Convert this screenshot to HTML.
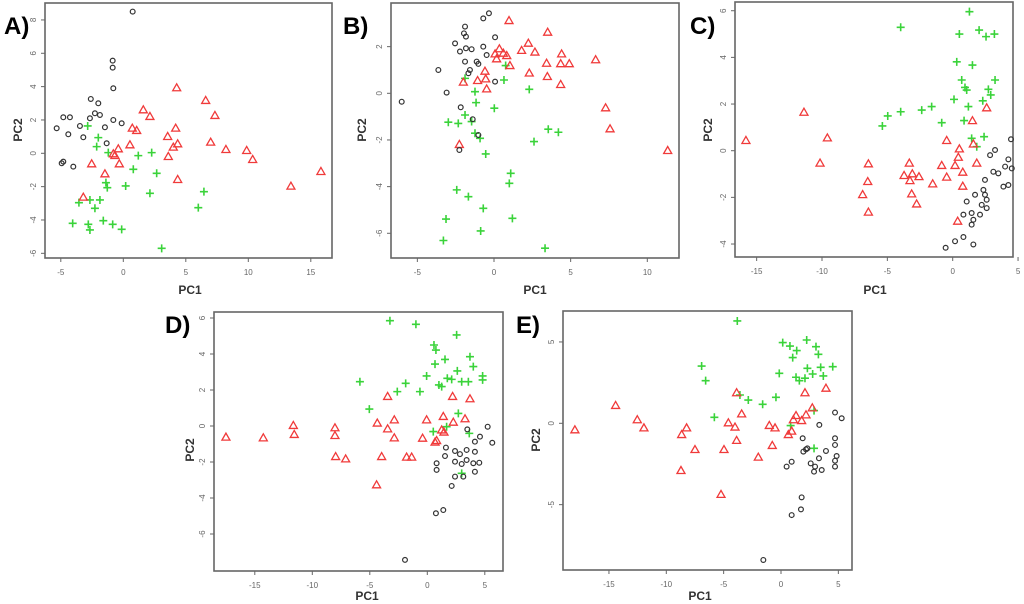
<!DOCTYPE html>
<html><head><meta charset="utf-8">
<style>
html,body{margin:0;padding:0;background:#fff;}
svg{display:block;font-family:"Liberation Sans",sans-serif;}
</style></head>
<body>
<svg id="fig" width="1024" height="604" viewBox="0 0 1024 604" xmlns="http://www.w3.org/2000/svg"></svg>
<script>
// ---------- Panel A data ----------
const aBlackX=[0.75,-0.85,-0.85,-0.8,-2.6,-2,-2.27,-1.87,-2.67,-4.8,-4.27,-3.47,-5.33,-4.4,-3.2,-1.47,-0.8,-0.13,-1.33,-4.8,-4.93,-4];
const aBlackY=[8.5,5.56,5.14,3.9,3.26,3,2.4,2.3,2.1,2.16,2.16,1.64,1.5,1.14,0.96,1.56,2,1.8,0.6,-0.5,-0.6,-0.8];
const aRedX=[4.27,6.59,7.33,1.6,2.13,0.72,1.07,4.19,3.55,4,4.35,6.99,8.21,9.87,10.35,0.53,-0.4,-0.67,-0.32,3.6,4.35,-1.47,-2.53,-3.2,13.41,15.81,-0.8];
const aRedY=[3.96,3.2,2.3,2.64,2.24,1.54,1.4,1.54,1.04,0.4,0.6,0.7,0.26,0.2,-0.34,0.54,0.3,-0.1,-0.6,-0.16,-1.54,-1.2,-0.6,-2.6,-1.94,-1.06,0];
const aGreenX=[-2.85,-2,-2.13,-1.2,2.27,1.2,0.8,2.67,-1.39,-1.28,0.19,2.13,6.45,-3.55,-2.67,-1.87,-2.27,6,-4.05,-2.8,-1.6,-0.85,-0.13,-2.67,3.07];
const aGreenY=[1.64,0.94,0.4,0.04,0.04,-0.14,-0.96,-1.2,-1.76,-2.06,-1.96,-2.4,-2.3,-2.96,-2.8,-2.8,-3.3,-3.26,-4.2,-4.26,-4.04,-4.26,-4.56,-4.6,-5.7];
const aXTicks=[-5,0,5,10,15];
const aYTicks=[8,6,4,2,0,-2,-4,-6];
// ---------- Panel B data ----------
const bBlackX=[-0.33,-0.7,-1.89,-1.96,-1.83,-2.54,-2.22,-1.83,-1.46,0.07,-0.7,-0.48,-1.89,-1.13,-1.02,-1.57,-1.67,-3.63,0.07,-3.09,-6.02,-2.17,-1.39,-1.02,-2.26];
const bBlackY=[3.43,3.21,2.86,2.57,2.43,2.14,1.79,1.93,1.89,2.4,2,1.64,1.36,1.36,1.26,1,0.86,1,0.5,0.03,-0.36,-0.6,-1.11,-1.79,-2.43];
const bRedX=[0.98,3.5,2.24,1.8,2.67,0.35,0.07,0.61,0.83,0.17,1.04,3.43,4.41,4.35,4.91,6.63,2.3,3.48,4.35,-0.59,-0.54,-1.07,-2,-0.48,7.28,7.57,11.33,-2.26];
const bRedY=[3.14,2.64,2.17,1.86,1.79,1.93,1.71,1.74,1.64,1.5,1.21,1.31,1.71,1.29,1.29,1.46,0.89,0.74,0.4,0.97,0.64,0.57,0.5,0.21,-0.6,-1.5,-2.43,-2.17];
const bGreenX=[0.76,-1.89,0.65,2.3,-1.24,-1.17,0.02,-1.89,-2.98,-2.33,-1.46,-1.24,-0.91,3.54,4.2,2.61,-0.54,1.09,1,-2.43,-1.67,-0.7,-3.13,1.2,-0.87,-3.3,3.33];
const bGreenY=[1.19,0.64,0.57,0.17,0.07,-0.4,-0.64,-0.93,-1.24,-1.29,-1.21,-1.71,-1.93,-1.54,-1.67,-2.07,-2.6,-3.43,-3.86,-4.14,-4.43,-4.93,-5.39,-5.36,-5.9,-6.31,-6.64];
const bXTicks=[-5,0,5,10];
const bYTicks=[2,0,-2,-4,-6];
// ---------- Panel C data ----------
const cBlackX=[4.46,3.24,2.86,4.26,4.01,4.52,3.11,3.49,2.47,4.26,3.88,2.35,2.47,2.6,1.71,1.07,2.22,2.6,2.09,1.45,0.82,1.58,1.45,0.82,0.18,1.58,-0.54];
const cBlackY=[0.49,0.03,-0.19,-0.37,-0.68,-0.76,-0.9,-0.97,-1.25,-1.47,-1.54,-1.68,-1.89,-2.1,-1.89,-2.18,-2.32,-2.46,-2.74,-2.67,-2.74,-2.96,-3.17,-3.7,-3.88,-4.02,-4.16];
const cRedX=[-15.82,-11.38,-9.59,-10.15,-6.45,-6.5,-6.89,-6.45,-3.32,-3.72,-3.09,-2.58,-3.27,-3.14,-2.76,-1.53,-0.84,-0.46,-0.46,0.18,0.51,0.43,0.77,0.77,1.51,1.58,1.84,2.6,0.38];
const cRedY=[0.46,1.67,0.57,-0.51,-0.54,-1.3,-1.86,-2.61,-0.51,-1.04,-0.97,-1.09,-1.26,-1.83,-2.26,-1.4,-0.61,0.46,-1.11,-0.61,0.1,-0.26,-0.9,-1.5,1.31,0.31,-0.51,1.86,-3];
const cGreenX=[1.28,-3.98,0.51,2.02,3.19,2.55,0.31,1.51,0.69,0.94,3.24,1.07,2.73,2.91,0.1,2.3,1.2,-1.61,-2.37,-3.98,-4.97,-5.38,-0.84,0.87,1.45,2.4,1.84];
const cGreenY=[5.96,5.29,5,5.17,5,4.89,3.81,3.67,3.03,2.71,3.03,2.6,2.63,2.39,2.2,2.14,1.89,1.89,1.74,1.67,1.49,1.06,1.2,1.29,0.53,0.6,0.17];
const cXTicks=[-15,-10,-5,0,5];
const cYTicks=[6,4,2,0,-2,-4];
// ---------- Panel D data ----------
const dBlackX=[3.48,5.25,4.58,4.14,5.65,1.62,1.54,2.41,2.84,3.42,4.14,2.41,2.99,3.42,4,4.52,4.14,0.81,0.81,2.41,3.13,2.12,0.75,1.39,-1.94];
const dBlackY=[-0.19,-0.04,-0.59,-0.87,-0.93,-1.2,-1.67,-1.39,-1.56,-1.33,-1.43,-1.98,-2.11,-1.89,-2.07,-2.04,-2.54,-2.07,-2.44,-2.81,-2.81,-3.33,-4.85,-4.67,-7.44];
const dRedX=[-17.51,-14.26,-11.65,-11.57,-8.03,-8.03,-7.97,-7.1,-4.35,-3.45,-2.87,-2.87,-3.45,-3.97,-4.41,-1.8,-1.36,-0.41,-0.06,0.67,0.81,1.39,1.45,2.26,2.2,3.28,3.71,1.25];
const dRedY=[-0.59,-0.63,0.06,-0.44,-0.07,-0.5,-1.67,-1.8,0.19,-0.13,0.37,-0.63,1.67,-1.67,-3.24,-1.7,-1.7,-0.65,0.37,-0.87,-0.78,0.56,-0.31,0.24,1.67,0.43,1.54,-0.19];
const dGreenX=[-3.25,-0.99,2.55,0.58,0.75,1.54,0.67,3.71,4,2.61,-0.06,1.74,2.12,1.01,1.25,2.99,3.57,4.81,4.81,-5.86,-1.88,-2.61,-0.64,-5.04,2.7,0.52,1.68,2.99,3.65];
const dGreenY=[5.85,5.65,5.06,4.5,4.22,3.7,3.44,3.85,3.3,3.06,2.78,2.65,2.59,2.28,2.19,2.46,2.46,2.78,2.56,2.46,2.37,1.91,1.91,0.94,0.7,-0.31,-0.04,-2.63,-0.41];
const dXTicks=[-15,-10,-5,0,5];
const dYTicks=[6,4,2,0,-2,-4,-6];
// ---------- Panel E data ----------
const eBlackX=[4.71,5.29,3.34,1.89,4.71,4.71,2.18,1.95,3.92,4.85,4.71,4.71,0.93,0.49,2.59,2.97,3.31,3.55,2.88,1.8,0.93,1.74,-1.54,2.3];
const eBlackY=[0.66,0.31,-0.1,-0.92,-0.92,-1.33,-1.6,-1.74,-1.7,-2.01,-2.3,-2.66,-2.36,-2.66,-2.46,-2.66,-2.15,-2.87,-2.97,-4.55,-5.64,-5.29,-8.4,-1.54];
const eRedX=[-17.97,-14.42,-12.53,-11.95,-8.66,-8.23,-7.5,-8.72,-5.23,-4.97,-4.59,-4.01,-3.87,-3.43,-3.87,-1.98,-1.02,-0.52,-0.76,0.64,0.93,1.08,1.31,1.8,2.09,2.18,2.73,3.92];
const eRedY=[-0.37,1.13,0.25,-0.25,-0.66,-0.25,-1.58,-2.87,-4.34,-1.58,0.06,-0.2,1.91,0.61,-1.02,-2.05,-0.1,-0.25,-1.33,-0.66,-0.45,0.25,0.51,0.2,1.91,0.55,0.98,2.19];
const eGreenX=[-3.81,-6.92,-6.57,-5.81,-3.58,-2.85,-1.6,-0.44,-0.15,0.15,0.78,1.37,1.02,2.24,3.05,3.26,2.3,2.76,3.69,3.46,4.51,1.31,1.6,2.09,0.84,2.88,2.88];
const eGreenY=[6.29,3.52,2.62,0.37,1.74,1.43,1.17,1.6,3.07,4.96,4.75,4.47,4.04,5.12,4.71,4.24,3.38,3.03,2.91,3.44,3.48,2.83,2.62,2.77,-0.14,0.78,-1.54];
const eXTicks=[-15,-10,-5,0,5];
const eYTicks=[5,0,-5];

const NS="http://www.w3.org/2000/svg";
const svg=document.getElementById('fig');
function mk(tag,attrs,parent){const e=document.createElementNS(NS,tag);for(const k in attrs)e.setAttribute(k,attrs[k]);(parent||svg).appendChild(e);return e;}

const panels=[
 {id:'a',letter:'A)',lx:4,ly:34,frame:[45,3,332,258],x0:123.3,kx:12.5,y0:153.3,ky:16.67,bx:aBlackX,by:aBlackY,rx:aRedX,ry:aRedY,gx:aGreenX,gy:aGreenY,xt:aXTicks,yt:aYTicks,pc1:[190,294],pc2:[22,130]},
 {id:'b',letter:'B)',lx:343,ly:34,frame:[391,3,679,258],x0:494,kx:15.33,y0:93.3,ky:23.33,bx:bBlackX,by:bBlackY,rx:bRedX,ry:bRedY,gx:bGreenX,gy:bGreenY,xt:bXTicks,yt:bYTicks,pc1:[535,294],pc2:[366,130]},
 {id:'c',letter:'C)',lx:690,ly:34,frame:[735,2,1013,257],x0:952.7,kx:13.07,y0:150.7,ky:23.33,bx:cBlackX,by:cBlackY,rx:cRedX,ry:cRedY,gx:cGreenX,gy:cGreenY,xt:cXTicks,yt:cYTicks,pc1:[875,294],pc2:[712,130]},
 {id:'d',letter:'D)',lx:165,ly:333,frame:[214,312,503,571],x0:427.3,kx:11.5,y0:426,ky:18,bx:dBlackX,by:dBlackY,rx:dRedX,ry:dRedY,gx:dGreenX,gy:dGreenY,xt:dXTicks,yt:dYTicks,pc1:[367,600],pc2:[194,450]},
 {id:'e',letter:'E)',lx:516,ly:333,frame:[563,311,852,570],x0:781,kx:11.47,y0:423.3,ky:16.27,bx:eBlackX,by:eBlackY,rx:eRedX,ry:eRedY,gx:eGreenX,gy:eGreenY,xt:eXTicks,yt:eYTicks,pc1:[700,600],pc2:[540,440]}
];

panels.forEach(p=>{
  const g=mk('g',{});
  
  
  const sx=v=>p.x0+v*p.kx, sy=v=>p.y0-v*p.ky;
  const [L,T,R,B]=p.frame;
  const fr=mk('rect',{x:L,y:T,width:R-L,height:B-T,fill:'none',stroke:'#666','stroke-width':1.6},g);
  
  
  const lt=mk('text',{x:p.lx,y:p.ly,'font-size':24,'font-weight':'bold',fill:'#000'},g);
  lt.textContent=p.letter;
  
  
  p.xt.forEach(v=>{
    const x=sx(v);
    mk('line',{x1:x,y1:B,x2:x,y2:B+4,stroke:'#666'},g);
    const t=mk('text',{x:x,y:B+17,'font-size':8,'text-anchor':'middle',fill:'#666'},g);
    t.textContent=v;
    
    
  });
  p.yt.forEach(v=>{
    const y=sy(v);
    mk('line',{x1:L,y1:y,x2:L-4,y2:y,stroke:'#666'},g);
    const t=mk('text',{x:L-9,y:y,'font-size':8,'text-anchor':'middle',fill:'#666',transform:`rotate(-90 ${L-9} ${y})`},g);
    t.textContent=v;
    
    
  });
  const t1=mk('text',{x:p.pc1[0],y:p.pc1[1],'font-size':12,'font-weight':'bold','text-anchor':'middle',fill:'#333'},g);
  t1.textContent='PC1';
  
  
  const t2=mk('text',{x:p.pc2[0],y:p.pc2[1],'font-size':12,'font-weight':'bold','text-anchor':'middle',fill:'#333',transform:`rotate(-90 ${p.pc2[0]} ${p.pc2[1]})`},g);
  t2.textContent='PC2';
  
  
  p.gx.forEach((v,i)=>{
    const x=sx(v),y=sy(p.gy[i]);
    const pl=mk('path',{d:`M${x-4},${y}H${x+4}M${x},${y-4}V${y+4}`,stroke:'#3ad33a','stroke-width':1.6},g);
    
    
  });
  p.rx.forEach((v,i)=>{
    const x=sx(v),y=sy(p.ry[i]);
    const tr=mk('path',{d:`M${x-4},${y+3.5}L${x},${y-3.5}L${x+4},${y+3.5}Z`,fill:'none',stroke:'#f03a3a','stroke-width':1.3},g);
    
    
  });
  p.bx.forEach((v,i)=>{
    const c=mk('circle',{cx:sx(v),cy:sy(p.by[i]),r:2.4,fill:'none',stroke:'#333','stroke-width':1.2},g);
    
    
  });
});
</script>
</body></html>
